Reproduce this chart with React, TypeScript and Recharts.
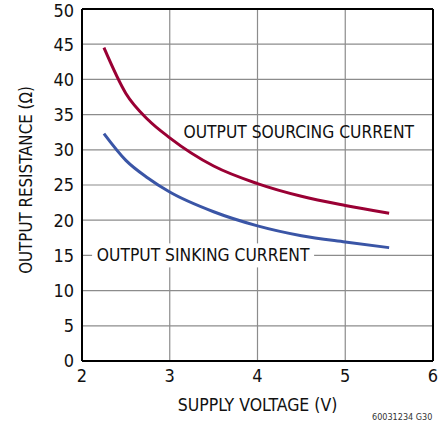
import {
  LineChart,
  Line,
  XAxis,
  YAxis,
  CartesianGrid,
  ReferenceLine,
  ReferenceDot,
} from "recharts";

const voltage = [2.25, 2.5, 2.75, 3, 3.5, 4, 4.5, 5, 5.5];
const sourcing = [44.5, 38, 34.3, 31.7, 27.7, 25.2, 23.4, 22.1, 21];
const sinking = [32.3, 28.5, 26, 24, 21.2, 19.2, 17.8, 16.9, 16.1];
const xTicks = [2, 3, 4, 5, 6];
const yTicks = [0, 5, 10, 15, 20, 25, 30, 35, 40, 45, 50];

const FONT = '"Liberation Sans Narrow", "DejaVu Sans Condensed", sans-serif';
const RED = "#9a0034";
const BLUE = "#3a55a6";

const data = voltage.map((v, i) => ({
  v,
  sourcing: sourcing[i],
  sinking: sinking[i],
}));

function SinkLabel(props: any) {
  const { cx, cy } = props;
  return (
    <g>
      <rect x={cx - 111} y={cy - 12} width={222} height={24} fill="#fff" />
      <text
        x={cx}
        y={cy}
        textAnchor="middle"
        dominantBaseline="central"
        fontFamily={FONT}
        fontSize={17.3}
        fill="#111"
      >
        OUTPUT SINKING CURRENT
      </text>
    </g>
  );
}

function SourceLabel(props: any) {
  const { cx, cy } = props;
  return (
    <text
      x={cx}
      y={cy}
      textAnchor="middle"
      dominantBaseline="central"
      fontFamily={FONT}
      fontSize={17.3}
      fill="#111"
    >
      OUTPUT SOURCING CURRENT
    </text>
  );
}

function YTitle() {
  return (
    <text
      x={26}
      y={180}
      transform="rotate(-90 26 180)"
      textAnchor="middle"
      dominantBaseline="central"
      fontFamily={FONT}
      fontSize={16.8}
      fill="#111"
    >
      OUTPUT RESISTANCE (Ω)
    </text>
  );
}

export default function App() {
  return (
    <div style={{ position: "absolute", left: 0, top: 0, width: 448, height: 423, background: "#fff" }}>
      <LineChart
        width={448}
        height={423}
        data={data}
        margin={{ top: 9, right: 15, bottom: 0, left: 0 }}
      >
        <CartesianGrid stroke="#8c8c8c" strokeWidth={1.2} />
        <XAxis
          dataKey="v"
          type="number"
          domain={[2, 6]}
          ticks={xTicks}
          tickLine={false}
          axisLine={{ stroke: "#000", strokeWidth: 2 }}
          height={62}
          tick={{ fill: "#111", fontSize: 18, fontFamily: FONT }}
          label={{
            value: "SUPPLY VOLTAGE (V)",
            position: "insideBottom",
            offset: 12,
            fill: "#111",
            fontSize: 17.5,
            fontFamily: FONT,
          }}
        />
        <YAxis
          type="number"
          domain={[0, 50]}
          ticks={yTicks}
          tickLine={false}
          axisLine={{ stroke: "#000", strokeWidth: 2 }}
          width={82}
          tick={{ fill: "#111", fontSize: 18, fontFamily: FONT }}
          label={<YTitle />}
        />
        <ReferenceLine y={50} stroke="#000" strokeWidth={2} />
        <ReferenceLine x={6} stroke="#000" strokeWidth={2} />
        <ReferenceDot x={3.38} y={15} r={0} shape={<SinkLabel />} />
        <ReferenceDot x={4.47} y={32.5} r={0} shape={<SourceLabel />} />
        <Line
          type="monotone"
          dataKey="sourcing"
          stroke={RED}
          strokeWidth={3}
          dot={false}
          isAnimationActive={false}
        />
        <Line
          type="monotone"
          dataKey="sinking"
          stroke={BLUE}
          strokeWidth={3}
          dot={false}
          isAnimationActive={false}
        />
      </LineChart>
      <div
        style={{
          position: "absolute",
          left: 372,
          top: 412,
          fontFamily: FONT,
          fontSize: 9,
          color: "#333",
        }}
      >
        60031234 G30
      </div>
    </div>
  );
}
